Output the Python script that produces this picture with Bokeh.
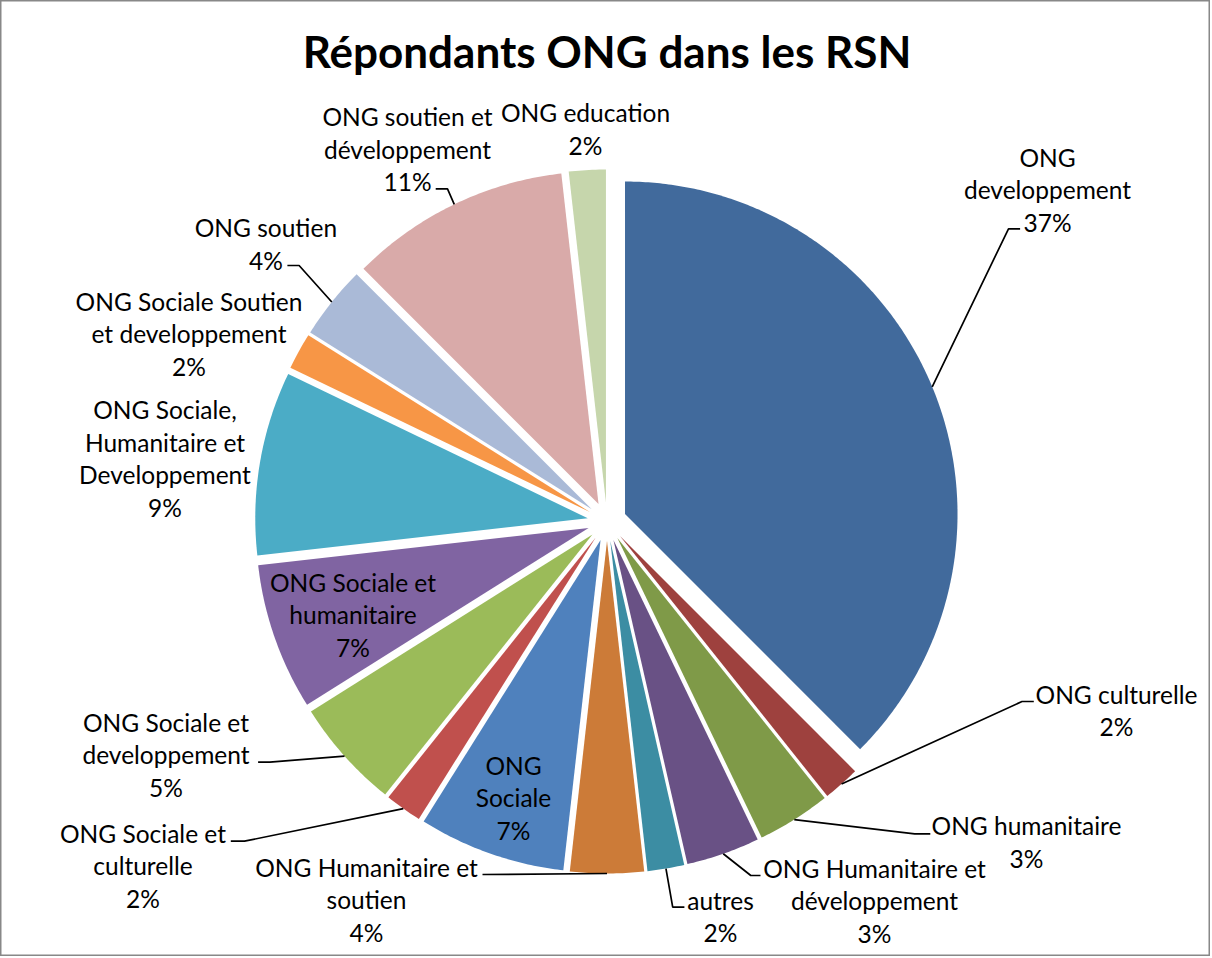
import numpy as np
from bokeh.plotting import figure
from bokeh.models import Range1d
from bokeh.core.properties import value
from bokeh.embed import file_html
from bokeh.resources import INLINE

# ---------------- data ----------------
title = "Répondants ONG dans les RSN"
categories = [
    "ONG developpement",
    "ONG culturelle",
    "ONG humanitaire",
    "ONG Humanitaire et développement",
    "autres",
    "ONG Humanitaire et soutien",
    "ONG Sociale",
    "ONG Sociale et culturelle",
    "ONG Sociale et developpement",
    "ONG Sociale et humanitaire",
    "ONG Sociale, Humanitaire et Developpement",
    "ONG Sociale Soutien et developpement",
    "ONG soutien",
    "ONG soutien et développement",
    "ONG education",
]
counts = [21, 1, 2, 2, 1, 2, 4, 1, 3, 4, 5, 1, 2, 6, 1]
pct_labels = ["37%", "2%", "3%", "3%", "2%", "4%", "7%", "2%", "5%", "7%",
              "9%", "2%", "4%", "11%", "2%"]
colors = ["#416A9C", "#9E413E", "#7F9A48", "#695185", "#3C8DA3", "#CC7B38",
          "#4F81BD", "#C0504D", "#9BBB59", "#8064A2", "#4BACC6", "#F79646",
          "#AABAD7", "#D9AAA9", "#C6D6AC"]

# ---------------- layout ----------------
W, H = 1210, 956
CX, CY = 606.5, 521.0
R = 332.5
EXPLODE = 19.5
LINE_H = 32.5
FONT = "Lato"
label_breaks = [[1], [], [], [3], [], [3], [1], [3], [3], [3], [2, 4], [3], [], [3], []]
label_pos = [(1047, 189), (1116, 710), (1026, 841.5), (874, 900), (720, 916),
             (366, 899), (513, 797), (142.5, 865), (165.5, 754), (352.5, 614),
             (164.5, 458), (188.5, 333), (265.4, 243.5), (407, 148.5), (585, 128.5)]
leader_pts = [
    [(1019.6, 228.3), (1008, 228.3)],
    [(1033.3, 701), (1021.5, 701)],
    [(929.8, 833.3), (914.2, 833.3)],
    [(760, 875), (750.3, 875)],
    [(683.9, 906.7), (672.2, 906.7)],
    [(482, 874)],
    None,
    [(230.3, 840.7), (244, 840.7)],
    [(257.6, 761.7), (269.3, 761.7)],
    None, None, None,
    [(286.9, 265), (298.6, 265)],
    [(435.2, 188.3), (447, 188.3)],
    None,
]

p = figure(width=W, height=H, x_range=Range1d(0, W), y_range=Range1d(H, 0),
           x_axis_type=None, y_axis_type=None, output_backend="svg",
           toolbar_location=None, min_border=0)
p.grid.visible = False
p.outline_line_color = "#888888"
p.outline_line_width = 2
p.background_fill_color = "white"
p.border_fill_color = "white"

vals = np.array(counts, dtype=float)
cum = np.concatenate([[0], np.cumsum(vals)]) / vals.sum() * 2 * np.pi
starts, ends = cum[:-1], cum[1:]
mids = (starts + ends) / 2


def polar(ox, oy, r, th):
    return ox + r * np.sin(th), oy - r * np.cos(th)


xs, ys = [], []
for a0, a1, am in zip(starts, ends, mids):
    ox, oy = polar(CX, CY, EXPLODE, am)
    n = max(6, int(np.degrees(a1 - a0) * 2))
    th = np.linspace(a0, a1, n)
    ax, ay = polar(ox, oy, R, th)
    xs.append([ox] + list(ax))
    ys.append([oy] + list(ay))

p.patches(xs=xs, ys=ys, fill_color=colors, line_color=None)

# leader lines
lx, ly = [], []
for pts, am in zip(leader_pts, mids):
    if pts is None:
        continue
    ex, ey = polar(CX, CY, R + EXPLODE, am)
    lx.append([q[0] for q in pts] + [ex])
    ly.append([q[1] for q in pts] + [ey])
p.multi_line(xs=lx, ys=ly, line_color="black", line_width=1.7)

# labels
tx, ty, tt = [], [], []
for cat, brk, pct, (px, py) in zip(categories, label_breaks, pct_labels, label_pos):
    words = cat.split(" ")
    cuts = [0] + brk + [len(words)]
    lines = [" ".join(words[cuts[i]:cuts[i + 1]]) for i in range(len(cuts) - 1)]
    lines.append(pct)
    n = len(lines)
    for i, line in enumerate(lines):
        tx.append(px)
        ty.append(py + (i - (n - 1) / 2) * LINE_H)
        tt.append(line)
p.text(x=tx, y=ty, text=tt, text_align="center", text_baseline="middle",
       text_font=value(FONT), text_font_size="24.5px", text_color="black")

p.text(x=[606.5], y=[50], text=[title], text_align="center", text_baseline="middle",
       text_font=value(FONT), text_font_style="bold", text_font_size="44px",
       text_color="black")

open("out.html", "w").write(file_html(p, INLINE))
